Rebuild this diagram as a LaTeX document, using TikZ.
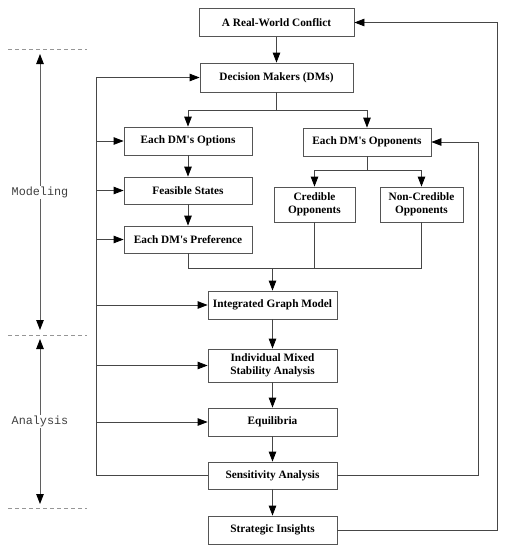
\documentclass[tikz,border=0pt]{standalone}
\usepackage{fontspec}
\setmainfont{Liberation Serif}
\newfontfamily\phasefont{Liberation Mono}
\usepackage{tikz}
\usetikzlibrary{arrows.meta,positioning,calc}
\definecolor{boxline}{RGB}{85,85,85}
\definecolor{wire}{RGB}{70,70,70}
\definecolor{phasegray}{RGB}{95,95,95}
\definecolor{dashgray}{RGB}{150,150,150}
\newcommand{\sq}{\textquotesingle}

\tikzset{
  procbox/.style={draw=boxline, line width=0.8pt, fill=white, inner sep=0pt,
    minimum height=28pt, align=center, font=\fontsize{11.3}{13}\selectfont\bfseries},
  flow/.style={draw=wire, line width=0.8pt},
  flowarr/.style={flow, -{Triangle[length=10pt,width=7.5pt,color=black]}},
  phasearr/.style={draw=phasegray, line width=0.9pt, {Triangle[length=10pt,width=7.5pt,color=black]}-{Triangle[length=10pt,width=7.5pt,color=black]}},
  phasedash/.style={draw=dashgray, line width=0.7pt, dash pattern=on 4pt off 3pt},
  phaselbl/.style={fill=white, inner sep=1pt, text=black!75, font=\phasefont\fontsize{11.8}{13}\selectfont}
}

\begin{document}
\begin{tikzpicture}[x=1pt, y=-1pt]
  \useasboundingbox (0,0) rectangle (506,550);

  % Main boxes
  \node[procbox, minimum width=155pt] (conf) at (276.5,22.5) {A Real-World Conflict};
  \node[procbox, minimum width=153pt, minimum height=29pt] (dm) at (276.5,77.5) {Decision Makers (DMs)};
  \node[procbox, minimum width=128pt] (opt) at (188,141) {Each DM\sq s Options};
  \node[procbox, minimum width=128pt] (opp) at (367,142) {Each DM\sq s Opponents};
  \node[procbox, minimum width=128pt, minimum height=27pt] (feas) at (188,190.5) {Feasible States};
  \node[procbox, minimum width=128pt, minimum height=27pt] (pref) at (188,239.5) {Each DM\sq s Preference};
  \node[procbox, minimum width=81pt, minimum height=35pt] (cred) at (314.5,204.5) {Credible\\Opponents};
  \node[procbox, minimum width=83pt, minimum height=35pt] (ncred) at (421.5,204.5) {Non-Credible\\Opponents};
  \node[procbox, minimum width=129pt] (igm) at (272.5,305) {Integrated Graph Model};
  \node[procbox, minimum width=129pt, minimum height=33pt] (imsa) at (272.5,365.5) {Individual Mixed\\Stability Analysis};
  \node[procbox, minimum width=129pt] (equ) at (272.5,422) {Equilibria};
  \node[procbox, minimum width=129pt, minimum height=27pt] (sens) at (272.5,475.5) {Sensitivity Analysis};
  \node[procbox, minimum width=129pt] (ins) at (272.5,530) {Strategic Insights};

  % Junction points
  \coordinate (dmsplit) at (276.5,110);
  \coordinate (oppsplit) at (367,170);
  \coordinate (merge) at (272.5,268);
  \coordinate (ltop) at (96,77.5);
  \coordinate (lbot) at (96,475.5);
  \coordinate (rloop) at (478,142);
  \coordinate (rtop) at (497,22.5);

  % Forward flow
  \draw[flowarr] (conf) -- (dm);
  \draw[flow] (dm) -- (dmsplit);
  \draw[flowarr] (dmsplit) -| (opt);
  \draw[flowarr] (dmsplit) -| (opp);
  \draw[flow] (opp) -- (oppsplit);
  \draw[flowarr] (oppsplit) -| (cred);
  \draw[flowarr] (oppsplit) -| (ncred);
  \draw[flowarr] (opt) -- (feas);
  \draw[flowarr] (feas) -- (pref);
  \draw[flow] (pref) |- (merge);
  \draw[flow] (cred) |- (merge);
  \draw[flow] (ncred) |- (merge);
  \draw[flowarr] (merge) -- (igm);
  \draw[flowarr] (igm) -- (imsa);
  \draw[flowarr] (imsa) -- (equ);
  \draw[flowarr] (equ) -- (sens);
  \draw[flowarr] (sens) -- (ins);

  % Feedback on the left
  \draw[flow] (sens) -- (lbot) -- (ltop);
  \draw[flowarr] (ltop) -- (dm);
  \foreach \target in {opt, feas, pref, igm, imsa, equ} {
    \draw[flowarr] (ltop |- \target) -- (\target);
  }

  % Feedback on the right
  \draw[flowarr] (sens) -| (rloop) -- (opp);
  \draw[flowarr] (ins) -| (rtop) -- (conf);

  % Phase scale
  \draw[phasedash] (8,49) -- (87,49);
  \draw[phasedash] (8,335) -- (87,335);
  \draw[phasedash] (8,508) -- (87,508);
  \coordinate (modtop) at (40,54);
  \coordinate (modbot) at (40,330);
  \coordinate (anltop) at (40,339);
  \coordinate (anlbot) at (40,504);
  \draw[phasearr] (modtop) -- (modbot);
  \draw[phasearr] (anltop) -- (anlbot);
  \node[phaselbl] (modlbl) at (40,192) {Modeling};
  \node[phaselbl] (anllbl) at (40,421) {Analysis};
\end{tikzpicture}
\end{document}
